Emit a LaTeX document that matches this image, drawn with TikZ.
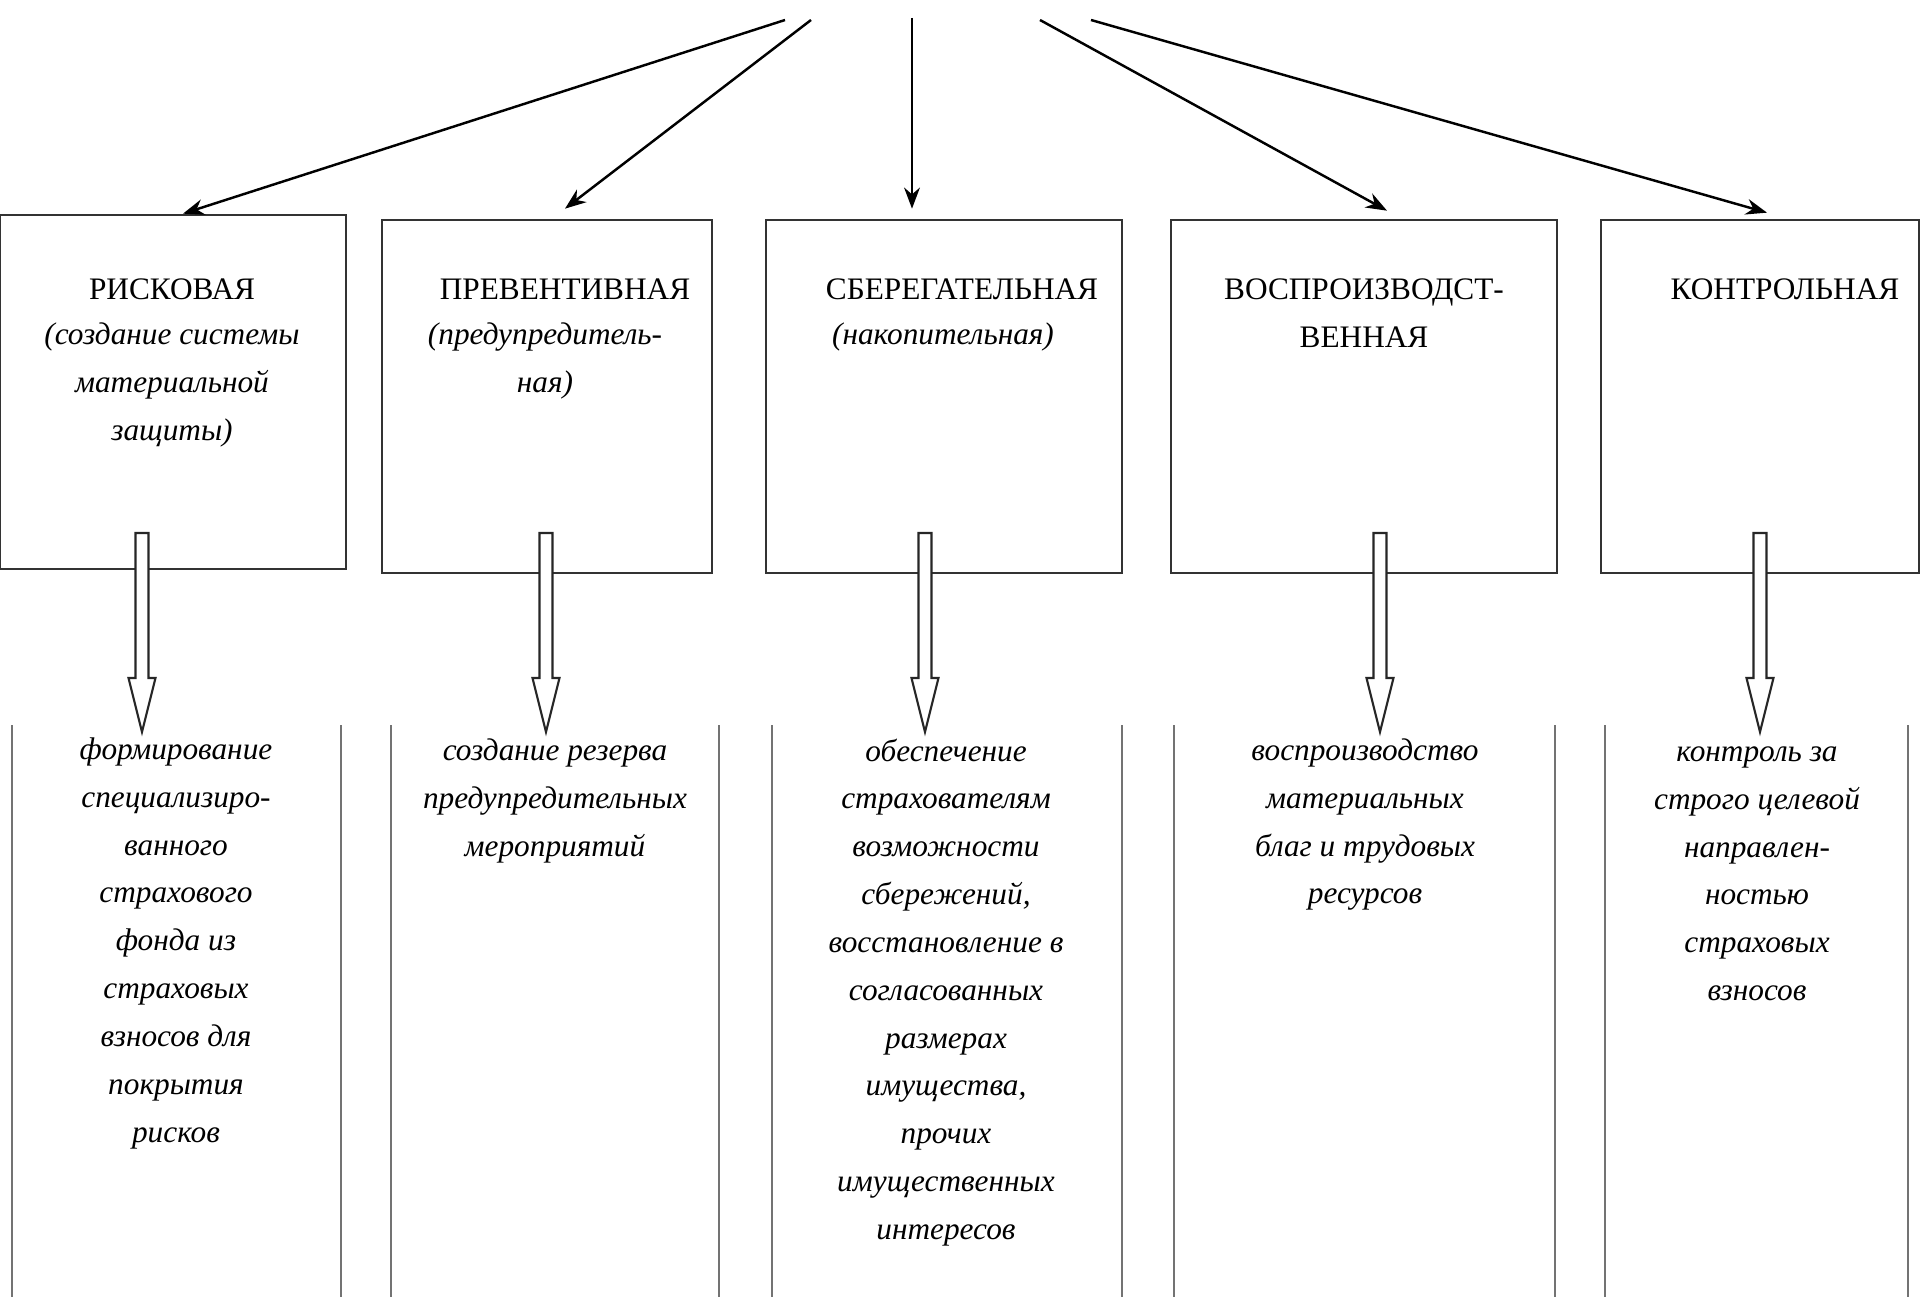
\documentclass[tikz,border=0pt]{standalone}
\usepackage{fontspec}
\setmainfont{Liberation Serif}
\usetikzlibrary{arrows.meta,calc}

\tikzset{
  funcbox/.style={draw=black!80,line width=0.7pt,inner sep=0pt},
  functitle/.style={inner sep=0pt,align=center,font=\fontsize{8.9}{13.6}\selectfont},
  funcnote/.style={inner sep=0pt,align=center,font=\fontsize{8.9}{13.6}\selectfont\itshape},
  funcdesc/.style={inner sep=0pt,anchor=north,align=center,font=\fontsize{8.9}{13.6}\selectfont\itshape},
  toparrow/.style={line width=0.7pt,-{Stealth[length=6pt,width=4.5pt]}},
  hollowarrow/.style={draw=black!85,line width=0.6pt,fill=white},
  colline/.style={draw=black!55,line width=0.8pt}
}

\begin{document}
\begin{tikzpicture}[x=0.01cm,y=-0.01cm]
  \useasboundingbox (0,0) rectangle (1920,1297);

  % Functions (boxes)
  \node[funcbox,minimum width=3.46cm,minimum height=3.54cm] (b1) at (173,392) {};
  \node[funcbox,minimum width=3.30cm,minimum height=3.53cm] (b2) at (547,396.5) {};
  \node[funcbox,minimum width=3.56cm,minimum height=3.53cm] (b3) at (944,396.5) {};
  \node[funcbox,minimum width=3.86cm,minimum height=3.53cm] (b4) at (1364,396.5) {};
  \node[funcbox,minimum width=3.18cm,minimum height=3.53cm] (b5) at (1760,396.5) {};

  % Box texts
  \node[functitle] (t1) at (172,289) {РИСКОВАЯ};
  \node[funcnote,anchor=north] (n1) at (172,322) {(создание системы\\материальной\\защиты)};
  \node[functitle] (t2) at (565,289) {ПРЕВЕНТИВНАЯ};
  \node[funcnote,anchor=north] (n2) at (545,322) {(предупредитель-\\ная)};
  \node[functitle] (t3) at (962,289) {СБЕРЕГАТЕЛЬНАЯ};
  \node[funcnote,anchor=north] (n3) at (943,322) {(накопительная)};
  \node[functitle] (t4) at (1364,313) {ВОСПРОИЗВОДСТ-\\ВЕННАЯ};
  \node[functitle] (t5) at (1785,289) {КОНТРОЛЬНАЯ};

  % Arrows from the top
  \coordinate (s1) at (785,20);
  \coordinate (s2) at (811,20);
  \coordinate (s3) at (912,18);
  \coordinate (s4) at (1040,20);
  \coordinate (s5) at (1091,20);
  \draw[toparrow] (s1) -- ($(b1.north)+(10,0)$);
  \draw[toparrow] (s2) -- ($(b2.north)+(18,-10)$);
  \draw[toparrow] (s3) -- ($(b3.north)+(-32,-10)$);
  \draw[toparrow] (s4) -- ($(b4.north)+(23,-8)$);
  \draw[toparrow] (s5) -- ($(b5.north)+(7,-6)$);

  % Columns
  \foreach \xa/\xb in {12/341,391/719,772/1122,1174/1555,1605/1908}{
    \draw[colline] (\xa,725) -- (\xa,1297);
    \draw[colline] (\xb,725) -- (\xb,1297);
  }

  % Hollow arrows
  \foreach \x in {142,546,925,1380,1760}{
    \draw[hollowarrow] ({\x-6.5},533) -- ({\x+6.5},533) -- ({\x+6.5},678)
      -- ({\x+13.5},678) -- (\x,732) -- ({\x-13.5},678) -- ({\x-6.5},678) -- cycle;
  }

  % Descriptions
  \node[funcdesc] (d1) at (176,737) {формирование\\специализиро-\\ванного\\страхового\\фонда из\\страховых\\взносов для\\покрытия\\рисков};
  \node[funcdesc] (d2) at (555,738) {создание резерва\\предупредительных\\мероприятий};
  \node[funcdesc] (d3) at (946,738) {обеспечение\\страхователям\\возможности\\сбережений,\\восстановление в\\согласованных\\размерах\\имущества,\\прочих\\имущественных\\интересов};
  \node[funcdesc] (d4) at (1365,738) {воспроизводство\\материальных\\благ и трудовых\\ресурсов};
  \node[funcdesc] (d5) at (1757,746) {контроль за\\строго целевой\\направлен-\\ностью\\страховых\\взносов};
\end{tikzpicture}
\end{document}
